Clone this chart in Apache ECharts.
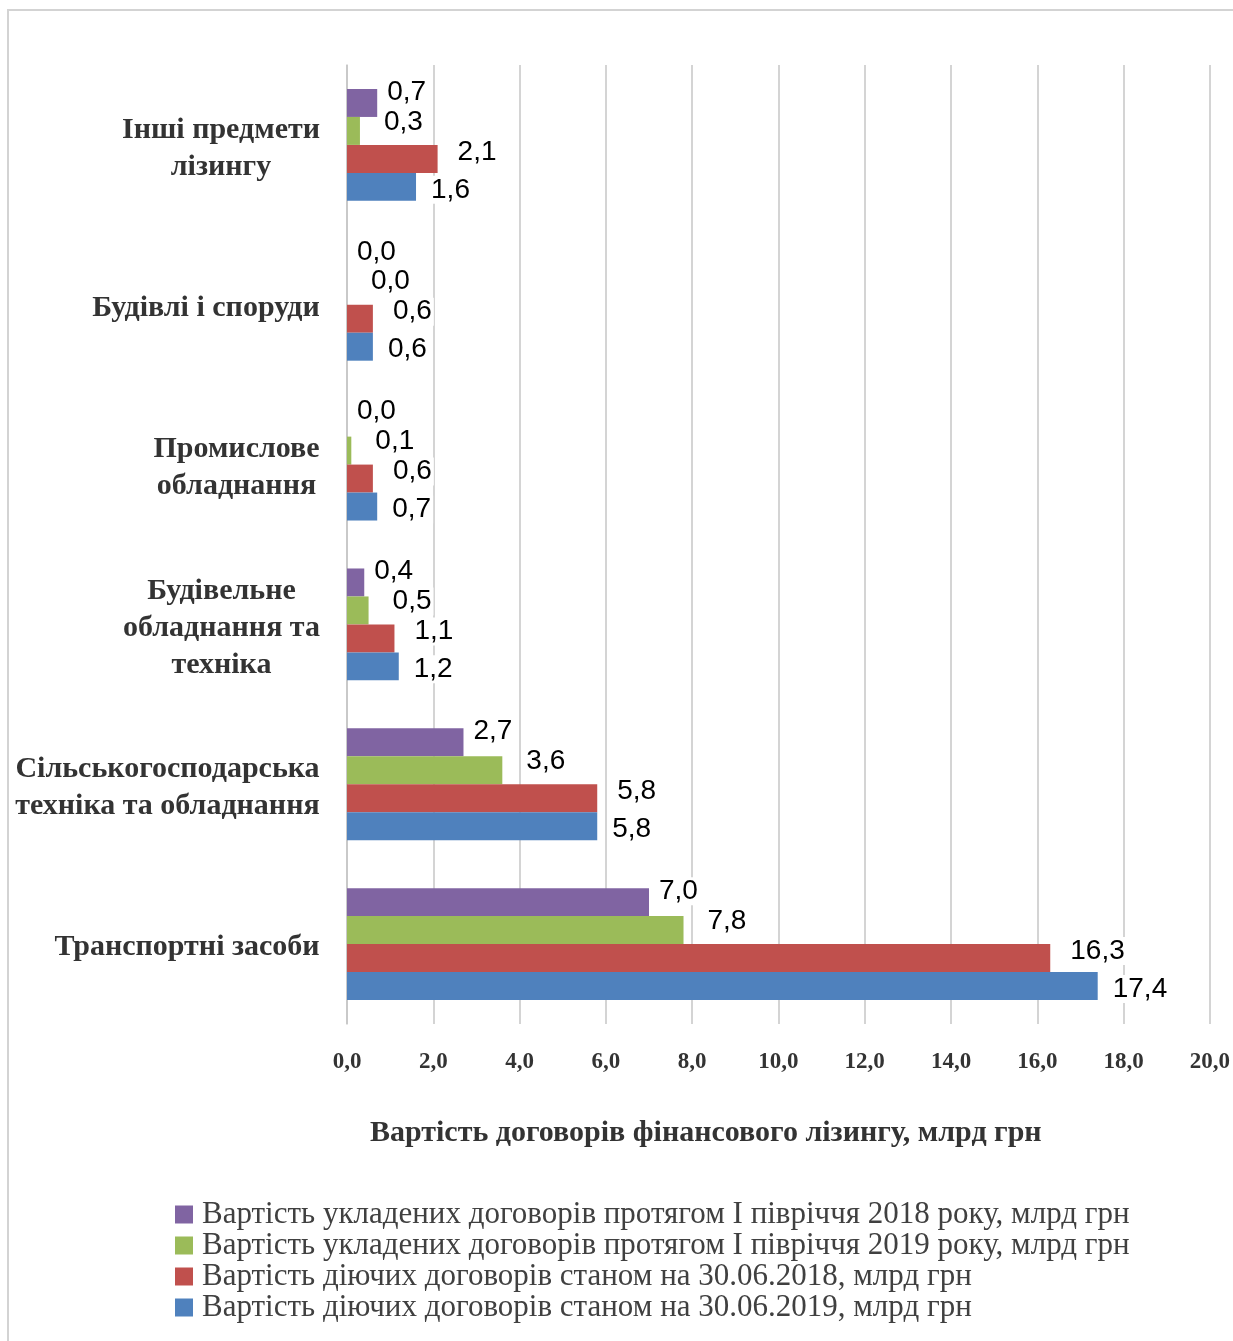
<!DOCTYPE html>
<html><head><meta charset="utf-8">
<script src="https://cdn.jsdelivr.net/npm/echarts@6/dist/echarts.min.js"></script>
<style>html,body{margin:0;padding:0;background:#fff}#c{width:1233px;height:1341px}</style>
</head><body><div id="c"></div>
<script>
// Categories listed bottom -> top (category axis runs upward)
const categories = [
  'Транспортні засоби',
  'Сільськогосподарська\nтехніка та обладнання',
  'Будівельне\nобладнання та\nтехніка',
  'Промислове\nобладнання',
  'Будівлі і споруди',
  'Інші предмети\nлізингу'
];
const seriesNames = [
  'Вартість укладених договорів протягом І півріччя 2018 року, млрд грн',
  'Вартість укладених договорів протягом І півріччя 2019 року, млрд грн',
  'Вартість діючих договорів станом на 30.06.2018, млрд грн',
  'Вартість діючих договорів станом на 30.06.2019, млрд грн'
];
const concluded2018 = [7.0, 2.7, 0.4, 0.0, 0.0, 0.7];
const concluded2019 = [7.8, 3.6, 0.5, 0.1, 0.0, 0.3];
const active2018    = [16.3, 5.8, 1.1, 0.6, 0.6, 2.1];
const active2019    = [17.4, 5.8, 1.2, 0.7, 0.6, 1.6];
const xMin = 0, xMax = 20, xStep = 2;
const axisTitle = 'Вартість договорів фінансового лізингу, млрд грн';

const colors = ['#8064A2', '#9BBB59', '#C0504D', '#4F81BD'];
const labelOffsets = [[3, -11], [17, -9], [13, -7], [8, 3]];
const seriesData = [concluded2018, concluded2019, active2018, active2019];

const catSize = 30;
const catFont = "bold " + catSize + "px 'Liberation Serif'";
const cv = document.createElement('canvas').getContext('2d');
cv.font = catFont;
const rich = {};
categories.forEach((c, i) => {
  const w = Math.max(...c.split('\n').map(s => cv.measureText(s).width));
  rich['l' + i] = {width: Math.ceil(w) + 2, align: 'center', fontFamily: 'Liberation Serif',
    fontWeight: 'bold', fontSize: catSize, color: '#333333', lineHeight: 37};
});

const fmt = v => v.toFixed(1).replace('.', ',');

const chart = echarts.init(document.getElementById('c'), null, {renderer: 'canvas'});
chart.setOption({
  animation: false,
  backgroundColor: '#fff',
  grid: {left: 347, right: 22, top: 65, bottom: 317, containLabel: false},
  title: {text: axisTitle, left: 365, top: 1113,
    textStyle: {fontFamily: 'Liberation Serif', fontWeight: 'bold', fontSize: 30, color: '#333333'}},
  legend: {
    orient: 'vertical', left: 170, top: 1194, itemWidth: 18, itemHeight: 18, itemGap: 0,
    icon: 'rect', selectedMode: false,
    textStyle: {fontFamily: 'Liberation Serif', fontSize: 31, color: '#404040', lineHeight: 31, padding: [0,0,0,4]},
    data: seriesNames
  },
  xAxis: {
    type: 'value', min: xMin, max: xMax, interval: xStep,
    axisLine: {show: false}, axisTick: {show: false},
    splitLine: {show: true, lineStyle: {color: '#c6c6c6', width: 1.5}},
    axisLabel: {formatter: fmt, margin: 27, fontFamily: 'Liberation Serif', fontWeight: 'bold',
      fontSize: 23, color: '#333333'}
  },
  yAxis: {
    type: 'category', data: categories,
    axisLine: {show: true, lineStyle: {color: '#c6c6c6', width: 1.5}},
    axisTick: {show: false},
    axisLabel: {margin: 26, align: 'right', rich: rich, padding: [7, 0, 0, 0],
      formatter: (v, i) => v.split('\n').map(s => '{l' + i + '|' + s + '}').join('\n')}
  },
  graphic: [{type: 'rect', silent: true, z: -1,
    shape: {x: 8, y: 10, width: 1300, height: 1400},
    style: {fill: 'none', stroke: '#d3d3d3', lineWidth: 2}}],
  series: seriesNames.map((n, k) => ({
    name: n, type: 'bar', data: seriesData[k],
    barGap: '0%', barCategoryGap: '30%',
    itemStyle: {color: colors[k]},
    label: {show: true, position: 'right', distance: 5, offset: labelOffsets[k],
      formatter: p => fmt(p.value), fontFamily: 'Liberation Sans', fontSize: 28, color: '#000',
      backgroundColor: '#fff', padding: [0, 2]}
  }))
});
</script></body></html>
